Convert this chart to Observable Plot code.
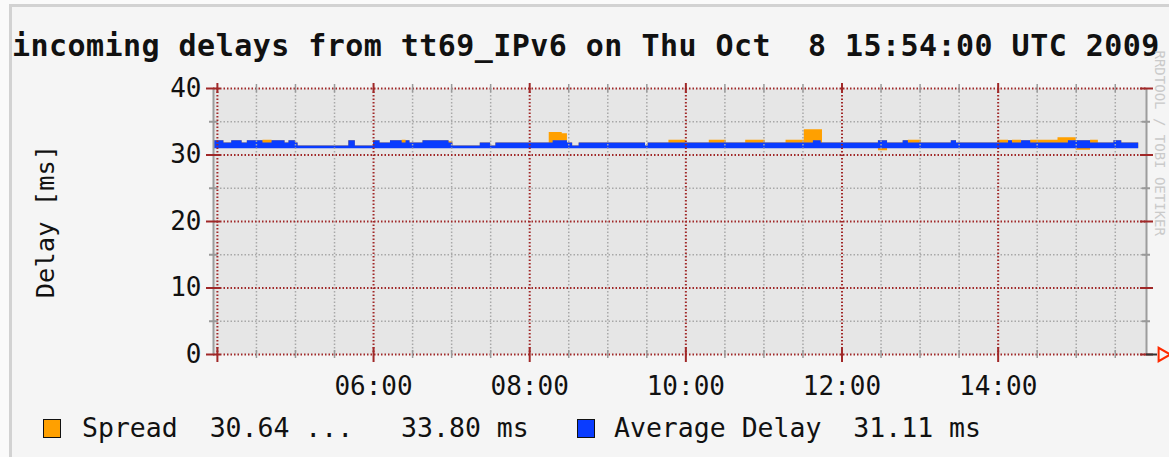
<!DOCTYPE html>
<html><head><meta charset="utf-8">
<script src="https://cdn.jsdelivr.net/npm/d3@7"></script>
<script src="https://cdn.jsdelivr.net/npm/@observablehq/plot@0.6"></script>
<style>
html,body{margin:0;padding:0;}
body{width:1169px;height:457px;overflow:hidden;background:#fafafa;position:relative;font-family:"DejaVu Sans Mono",monospace;}
#canvas{position:absolute;left:12px;top:7px;right:0;bottom:0;background:#f5f5f5;}
#bandTop{position:absolute;left:9px;top:4px;right:0;height:3px;background:#d2d2d2;}
#bandLeft{position:absolute;left:9px;top:4px;bottom:0;width:3px;background:#d2d2d2;}
#title{position:absolute;left:12px;top:31px;font-size:30px;line-height:30px;font-weight:bold;white-space:pre;color:#111;letter-spacing:0.45px;}
#chart{position:absolute;left:0;top:70px;}
.legend{position:absolute;top:415px;font-size:26.5px;line-height:26px;white-space:pre;color:#111;}
.sw{position:absolute;top:419px;width:18px;height:19px;border:1.5px solid #111;box-sizing:border-box;}
</style></head>
<body>
<div id="canvas"></div><div id="bandTop"></div><div id="bandLeft"></div>
<div id="title"></div>
<div id="chart"></div>
<div id="legend"></div>
<script>
const titleText = "incoming delays from tt69_IPv6 on Thu Oct  8 15:54:00 UTC 2009";
const yTitle = "Delay [ms]";
const watermark = "RRDTOOL / TOBI OETIKER";
const legendLabels = ["Spread  30.64 ...   33.80 ms", "Average Delay  31.11 ms"];
const legendColors = ["#ffa000", "#0a3cff"];

// step data: each value holds from its time until the next time
const times = ["03:57","04:05","04:11","04:19","04:23","04:35","04:42","04:52","04:55","05:00",
  "05:02","05:41","05:46","06:00","06:05","06:13","06:22","06:25","06:28","06:38",
  "06:58","07:01","07:22","07:30","07:34","08:15","08:18","08:25","08:29","08:33",
  "08:38","09:29","09:31","09:47","10:00","10:18","10:31","10:46","11:01","11:17",
  "11:31","11:38","11:44","11:45","12:28","12:35","12:47","12:51","13:01","13:24",
  "13:28","14:00","14:08","14:11","14:18","14:25","14:46","14:54","15:00","15:11",
  "15:17","15:29","15:35","15:48"];
const avgDelay = [32.15,31.8,32.15,31.8,32.15,31.8,32.15,31.8,32.15,31.8,
  31.35,32.15,31.35,32.15,31.8,32.15,31.8,32.15,31.8,32.15,
  31.8,31.35,31.8,31.35,31.8,31.8,32.15,32.15,31.8,31.35,
  31.8,31.35,31.8,31.8,31.8,31.8,31.8,31.8,31.8,31.8,
  31.8,32.15,31.8,31.8,32.15,31.8,32.15,31.8,31.8,32.15,
  31.8,31.8,32.15,31.8,32.15,31.8,31.8,32.15,32.15,31.8,
  31.8,32.15,31.8,31.8];
const spreadMin = [31.0,31.0,31.0,31.0,31.0,31.0,31.0,31.0,31.0,31.0,
  31.0,31.0,31.0,31.0,31.0,31.0,31.0,31.0,31.0,31.0,
  31.0,31.0,31.0,31.0,31.0,31.0,31.0,31.0,31.0,31.0,
  31.0,31.0,31.0,31.0,31.0,31.0,31.0,31.0,31.0,31.0,
  31.0,31.0,31.0,31.0,30.64,31.0,31.0,31.0,31.0,31.0,
  31.0,31.0,31.0,31.0,31.0,31.0,31.0,31.0,30.7,31.0,
  31.0,31.0,31.0,31.0];
const spreadMax = [32.15,31.8,32.15,31.8,32.15,32.2,32.15,31.8,32.15,31.8,
  31.35,32.15,31.35,32.15,31.8,32.15,32.2,32.15,31.8,32.15,
  32.0,31.35,31.8,31.35,31.8,33.4,33.4,33.2,31.8,31.35,
  31.8,31.35,31.8,32.2,31.8,32.2,31.8,32.2,31.8,32.2,
  33.8,33.8,33.8,31.8,32.15,31.8,32.15,32.2,31.8,32.15,
  31.8,32.2,32.15,32.2,32.15,32.2,32.6,32.6,32.15,32.2,
  31.8,32.15,31.8,31.8];
const AVG_FLOOR = 30.95;

const yMajor = [0, 10, 20, 30, 40];
const yMinor = [5, 15, 25, 35];
const xMajor = ["04:00","06:00","08:00","10:00","12:00","14:00"];
const xMinor = ["04:30","05:00","05:30","06:30","07:00","07:30","08:30","09:00","09:30",
  "10:30","11:00","11:30","12:30","13:00","13:30","14:30","15:00","15:30"];
const xLabels = ["06:00","08:00","10:00","12:00","14:00"];
const rangeStart = "03:57", rangeEnd = "15:54";

const t = s => { const [h, m] = s.split(":").map(Number); return new Date(Date.UTC(2009, 9, 8, h, m)); };
const rows = times.map((s, i) => ({time: t(s), avg: avgDelay[i], lo: spreadMin[i], hi: spreadMax[i], floor: AVG_FLOOR}));
const START = t(rangeStart), END = t(rangeEnd);
const RED = "#a02828", GRAY = "#a8a8a8", DOT = "1.5,2";

document.getElementById("title").textContent = titleText;

const chart = Plot.plot({
  width: 1169, height: 330,
  marginTop: 18, marginBottom: 46, marginLeft: 213, marginRight: 23,
  style: {background: "transparent", overflow: "visible", fontFamily: "DejaVu Sans Mono, monospace", color: "#111"},
  x: {type: "utc", domain: [START, END]},
  y: {domain: [0, 40]},
  marks: [
    Plot.frame({fill: "#e6e6e6", stroke: null}),
    Plot.areaY(rows, {x: "time", y1: "lo", y2: "hi", curve: "step-after", fill: "#ffa000"}),
    Plot.areaY(rows, {x: "time", y1: "floor", y2: "avg", curve: "step-after", fill: "#0a3cff"}),
    Plot.ruleX(xMinor.map(t), {stroke: GRAY, strokeWidth: 1.5, strokeDasharray: DOT}),
    Plot.ruleY(yMinor, {stroke: GRAY, strokeWidth: 1.5, strokeDasharray: DOT}),
    Plot.ruleX(xMajor.map(t), {stroke: RED, strokeWidth: 2, strokeDasharray: DOT}),
    Plot.ruleY(yMajor, {stroke: RED, strokeWidth: 2, strokeDasharray: DOT}),
    Plot.ruleX([START, END], {stroke: "#9c9c9c", strokeWidth: 2}),
    // tick marks
    Plot.ruleY(yMajor, {x1: START, x2: START, insetLeft: -7, insetRight: -7, stroke: RED, strokeWidth: 2}),
    Plot.ruleY(yMinor, {x1: START, x2: START, insetLeft: -4, insetRight: -4, stroke: "#999", strokeWidth: 2}),
    Plot.ruleY(yMajor, {x1: END, x2: END, insetLeft: -6, insetRight: -7, stroke: RED, strokeWidth: 2}),
    Plot.ruleY(yMinor, {x1: END, x2: END, insetLeft: -4, insetRight: -4, stroke: "#999", strokeWidth: 2}),
    Plot.ruleX(xMajor.map(t), {y1: 0, y2: 0, insetTop: -7, insetBottom: -8, stroke: RED, strokeWidth: 2}),
    Plot.ruleX(xMinor.map(t), {y1: 0, y2: 0, insetTop: -4, insetBottom: -4, stroke: "#999", strokeWidth: 1.5}),
    Plot.ruleX(xMajor.map(t), {y1: 40, y2: 40, insetTop: -5, insetBottom: -5, stroke: RED, strokeWidth: 2}),
    Plot.ruleX(xMinor.map(t), {y1: 40, y2: 40, insetTop: -4, insetBottom: -4, stroke: "#999", strokeWidth: 1.5}),
    Plot.ruleY([0], {x1: END, x2: END, insetRight: -11, stroke: "#333", strokeWidth: 2}),
    Plot.dot([{time: END, v: 0}], {x: "time", y: "v", symbol: "triangle", rotate: 90, r: 5, dx: 16, stroke: "#ff2a00", strokeWidth: 2, fill: "none"}),
    // axes
    Plot.axisY({ticks: yMajor, anchor: "left", tickSize: 0, tickPadding: 12, fontSize: 26, label: null}),
    Plot.axisX({ticks: xLabels.map(t), tickFormat: d3.utcFormat("%H:%M"), anchor: "bottom", tickSize: 0, tickPadding: 22, fontSize: 26, label: null}),
    Plot.text([yTitle], {frameAnchor: "left", textAnchor: "middle", lineAnchor: "middle", rotate: -90, dx: -168, fontSize: 25.5, fill: "#111"}),
    Plot.text([watermark], {frameAnchor: "top-right", textAnchor: "start", lineAnchor: "middle", rotate: 90, dx: 13, dy: -38, fontSize: 14, fill: "#cacaca"})
  ]
});
document.getElementById("chart").appendChild(chart);

const lg = document.getElementById("legend");
const swLeft = [43, 577], txtLeft = [82, 614];
legendLabels.forEach((lab, i) => {
  const sw = document.createElement("div");
  sw.className = "sw"; sw.style.left = swLeft[i] + "px"; sw.style.background = legendColors[i];
  lg.appendChild(sw);
  const tx = document.createElement("div");
  tx.className = "legend"; tx.style.left = txtLeft[i] + "px"; tx.textContent = lab;
  lg.appendChild(tx);
});
</script>
</body></html>
